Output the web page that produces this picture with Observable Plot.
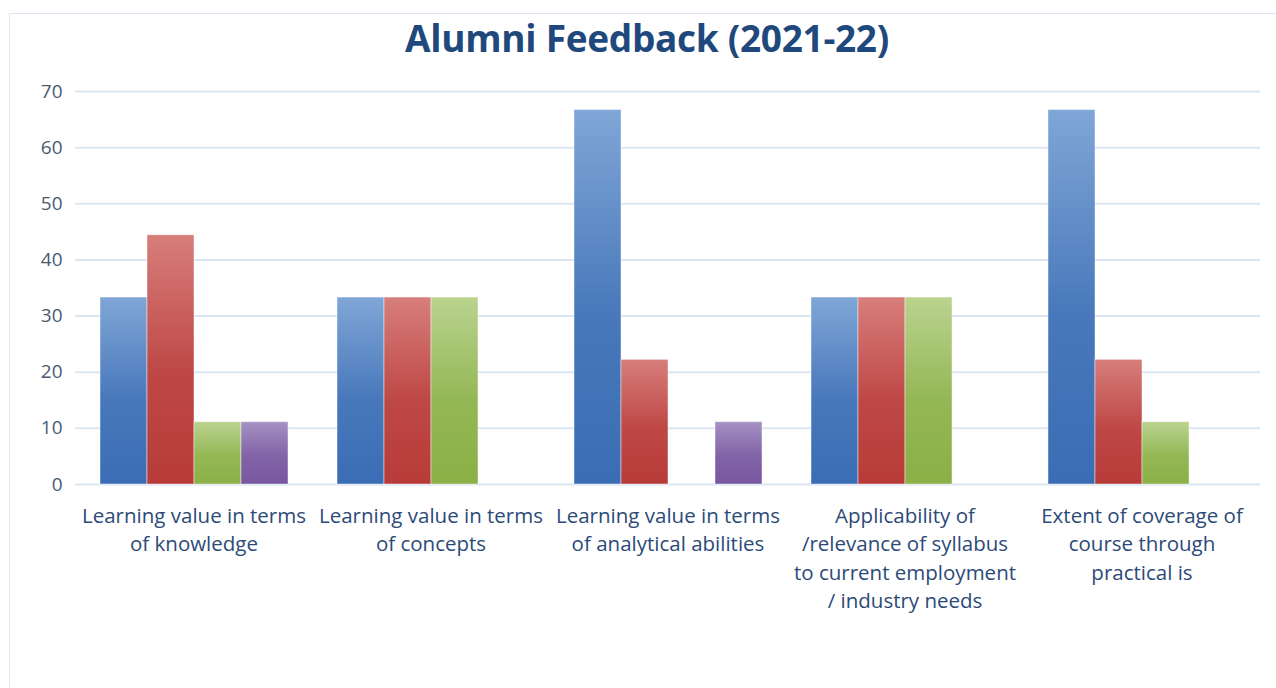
<!DOCTYPE html>
<html>
<head>
<meta charset="utf-8">
<script src="https://cdn.jsdelivr.net/npm/d3@7"></script>
<script src="https://cdn.jsdelivr.net/npm/@observablehq/plot@0.6"></script>
<style>
  html, body { margin: 0; padding: 0; background: #fff; }
  body { width: 1276px; height: 688px; position: relative; overflow: hidden; font-family: "Open Sans", sans-serif; }
  #box { position: absolute; left: 9px; top: 13px; width: 1300px; height: 720px; border: 1.5px solid #dde7f3; box-sizing: border-box; }
  #title { position: absolute; left: 0; width: 1294px; top: 12px; text-align: center; font-size: 37px; font-weight: 700; color: #1f497d; letter-spacing: -0.3px; }
  #chart { position: absolute; left: 0; top: 70px; }
</style>
</head>
<body>
<div id="box"></div>
<div id="title">Alumni Feedback (2021-22)</div>
<div id="chart"></div>
<script>
const categories = [
  "Learning value in terms\nof knowledge",
  "Learning value in terms\nof concepts",
  "Learning value in terms\nof analytical abilities",
  "Applicability of\n/relevance of syllabus\nto current employment\n/ industry needs",
  "Extent of coverage of\ncourse through\npractical is"
];
const series = ["Excellent", "Very Good", "Good", "Satisfactory"];
const excellent    = [33.3, 33.3, 66.7, 33.3, 66.7];
const veryGood     = [44.4, 33.3, 22.2, 33.3, 22.2];
const good         = [11.1, 33.3, 0,    33.3, 11.1];
const satisfactory = [11.1, 0,    11.1, 0,    0];
const yTicks = [0, 10, 20, 30, 40, 50, 60, 70];

const seriesValues = [excellent, veryGood, good, satisfactory];
const data = categories.flatMap((c, i) =>
  series.map((s, j) => ({category: c, series: s, value: seriesValues[j][i]}))
);

const gradients = [
  {id: "gBlue",   top: "#7fa6d6", bottom: "#3a6db4"},
  {id: "gRed",    top: "#d77e7b", bottom: "#b83b39"},
  {id: "gGreen",  top: "#bad38f", bottom: "#8bb046"},
  {id: "gPurple", top: "#a592c3", bottom: "#7857a0"}
];

const chart = Plot.plot({
  width: 1276,
  height: 580,
  marginLeft: 73,
  marginRight: 14,
  marginTop: 21,
  marginBottom: 166,
  style: {fontFamily: "Open Sans, sans-serif", background: "transparent", overflow: "visible"},
  fx: {domain: categories, paddingInner: 0, paddingOuter: 0, label: null},
  x: {domain: series, paddingInner: 0, paddingOuter: 0.5, axis: null},
  y: {domain: [0, 70], label: null},
  color: {domain: series, range: gradients.map(g => `url(#${g.id})`)},
  marks: [
    Plot.gridY(yTicks, {stroke: "#dce6f2", strokeOpacity: 1, strokeWidth: 2}),
    Plot.axisY(yTicks, {tickSize: 0, tickPadding: 13, fontSize: 19, color: "#4a5a72", label: null}),
    Plot.axisFx({anchor: "bottom", tickSize: 0, tickPadding: 18, fontSize: 20.5, lineHeight: 1.39, color: "#2c4a78", label: null}),
    Plot.barY(data.filter(d => d.value > 0), {
      fx: "category", x: "series", y: "value", fill: "series",
      stroke: "#ffffff", strokeOpacity: 0.45, strokeWidth: 1
    })
  ]
});

const defs = d3.select(chart).insert("defs", ":first-child");
gradients.forEach(g => {
  const lg = defs.append("linearGradient").attr("id", g.id)
    .attr("x1", 0).attr("y1", 0).attr("x2", 0).attr("y2", 1);
  lg.append("stop").attr("offset", "0%").attr("stop-color", g.top);
  lg.append("stop").attr("offset", "55%").attr("stop-color", d3.interpolateRgb(g.top, g.bottom)(0.8));
  lg.append("stop").attr("offset", "100%").attr("stop-color", g.bottom);
});

document.getElementById("chart").appendChild(chart);
</script>
</body>
</html>
